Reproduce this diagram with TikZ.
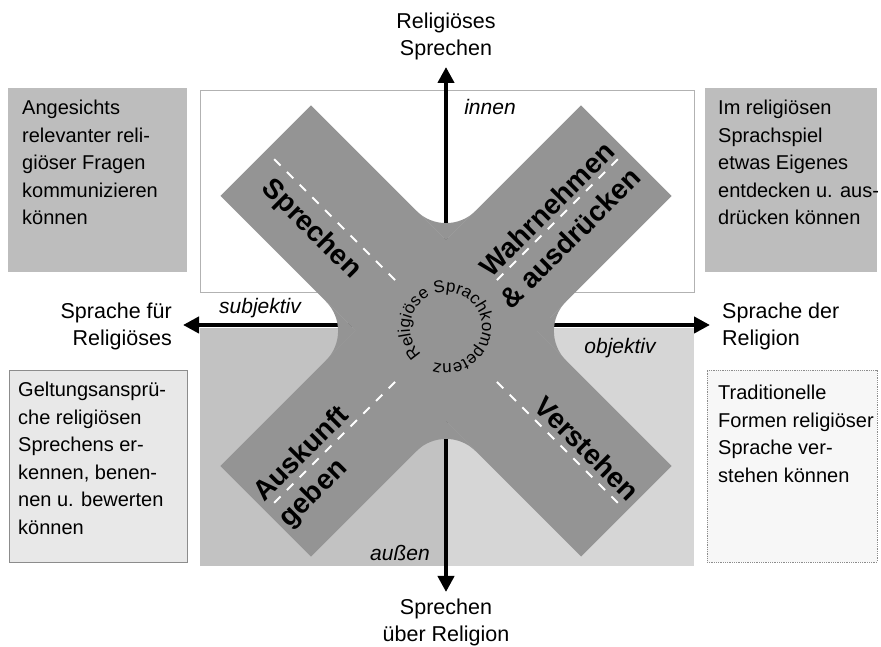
\documentclass[tikz,border=0pt]{standalone}
\usepackage{fontspec}
\setmainfont{Liberation Sans}
\usetikzlibrary{arrows.meta,decorations.text}
\definecolor{armgray}{gray}{0.58}
\definecolor{boxgray}{gray}{0.74}
\definecolor{lowleft}{gray}{0.76}
\definecolor{lowright}{gray}{0.84}
\definecolor{lightbox}{gray}{0.91}
\newcommand\circfont{\fontsize{17}{20}\selectfont}
\tikzset{
  axis/.style={line width=4.5pt,-{Triangle[length=16pt,width=16pt]}},
  axislabel/.style={font=\fontsize{21.5}{27}\selectfont, inner sep=0pt},
  polelabel/.style={font=\fontsize{21}{25}\selectfont\itshape, inner sep=0pt},
  boxtext/.style={font=\fontsize{20}{27.5}\selectfont, align=left, inner sep=0pt, anchor=north west},
  armtext/.style={font=\fontsize{28}{34}\selectfont\bfseries, inner sep=0pt},
  dashline/.style={white, line width=2pt, dash pattern=on 9pt off 9pt},
  panel/.style={inner sep=0pt, outer sep=0pt, anchor=north west},
}
\begin{document}
\begin{tikzpicture}[x=1pt,y=1pt]
\useasboundingbox (0,0) rectangle (881,647);
\fill[white] (0,0) rectangle (881,647);

% background regions
\node[panel, draw=black!30, line width=0.8pt, fill=white, minimum width=494pt, minimum height=202pt] (topbg) at (200,557) {};
\fill[lowleft] (200,81) rectangle (446,319);
\fill[lowright] (446,81) rectangle (694,319);

% side boxes
\node[panel, fill=boxgray, minimum width=179pt, minimum height=184pt] (boxTL) at (8,559) {};
\node[panel, fill=boxgray, minimum width=172pt, minimum height=184pt] (boxTR) at (705,559) {};
\node[panel, fill=lightbox, draw=black!45, line width=0.8pt, minimum width=178pt, minimum height=192pt] (boxBL) at (9,277) {};
\node[panel, fill=black!3, draw=black!45, densely dotted, line width=0.8pt, minimum width=170pt, minimum height=192pt] (boxBR) at (707,277) {};

\node[boxtext] (txtTL) at (22,547) {Angesichts\\relevanter reli-\\giöser Fragen\\kommunizieren\\können};
\node[boxtext] (txtTR) at (718,547) {Im religiösen\\Sprachspiel\\etwas Eigenes\\entdecken u. aus-\\drücken können};
\node[boxtext] (txtBL) at (18,265) {Geltungsansprü-\\che religiösen\\Sprechens er-\\kennen, benen-\\nen u. bewerten\\können};
\node[boxtext] (txtBR) at (718,262) {Traditionelle\\Formen religiöser\\Sprache ver-\\stehen können};

% axes
\coordinate (O) at (446,322);
\coordinate (tipT) at (446,580);
\coordinate (tipB) at (446,55);
\coordinate (tipL) at (183,322);
\coordinate (tipR) at (710,322);
\draw[axis] (O) -- (tipT);
\draw[axis] (O) -- (tipB);
\draw[axis] (O) -- (tipL);
\draw[axis] (O) -- (tipR);

% the X
\begin{scope}[shift={(446,316)}]
  \fill[armgray, rotate=45] (-255,-64) rectangle (255,64);
  \fill[armgray, rotate=-45] (-255,-64) rectangle (255,64);
  \foreach \a in {0,90,180,270} {
    \fill[armgray, rotate=\a] (0,90.5) -- ++(29.7,29.7) arc[start angle=-45, end angle=-135, radius=42] -- cycle;
  }
  \foreach \a in {45,135,225,315} \draw[dashline] (\a:72) -- (\a:250);
\end{scope}

\begin{scope}[shift={(446,316)}, rotate=-45, transform shape]
  \node[armtext, anchor=base west] (sprechen) at (-231,-31) {Sprechen};
  \node[armtext, anchor=base east] (verstehen) at (250,7) {Verstehen};
\end{scope}
\begin{scope}[shift={(446,316)}, rotate=45, transform shape]
  \node[armtext, anchor=base east] (wahr) at (246,5) {Wahrnehmen};
  \node[armtext, anchor=base east] (ausdr) at (246,-32) {\& ausdrücken};
  \node[armtext, anchor=base west] (ausk) at (-250,7) {Auskunft};
  \node[armtext, anchor=base west] (geben) at (-250,-29) {geben};
\end{scope}

% circular text
\path[decorate, decoration={text along path, text align=center,
  text={|\circfont|Religiöse Sprachkompetenz}}]
  (446,319) ++(239:36) arc[start angle=239, end angle=-121, radius=36];

% axis end labels
\node[axislabel, align=center] (labT) at (446,611) {Religiöses\\Sprechen};
\node[axislabel, align=center] (labB) at (446,25) {Sprechen\\über Religion};
\node[axislabel, align=right, anchor=east] (labL) at (172,320.5) {Sprache für\\Religiöses};
\node[axislabel, align=left, anchor=west] (labR) at (722,320.5) {Sprache der\\Religion};

% pole labels
\node[polelabel] (innen) at (490,540) {innen};
\node[polelabel] (aussen) at (400,94) {außen};
\node[polelabel] (subj) at (260,339) {subjektiv};
\node[polelabel] (obj) at (620,299) {objektiv};
\end{tikzpicture}
\end{document}
